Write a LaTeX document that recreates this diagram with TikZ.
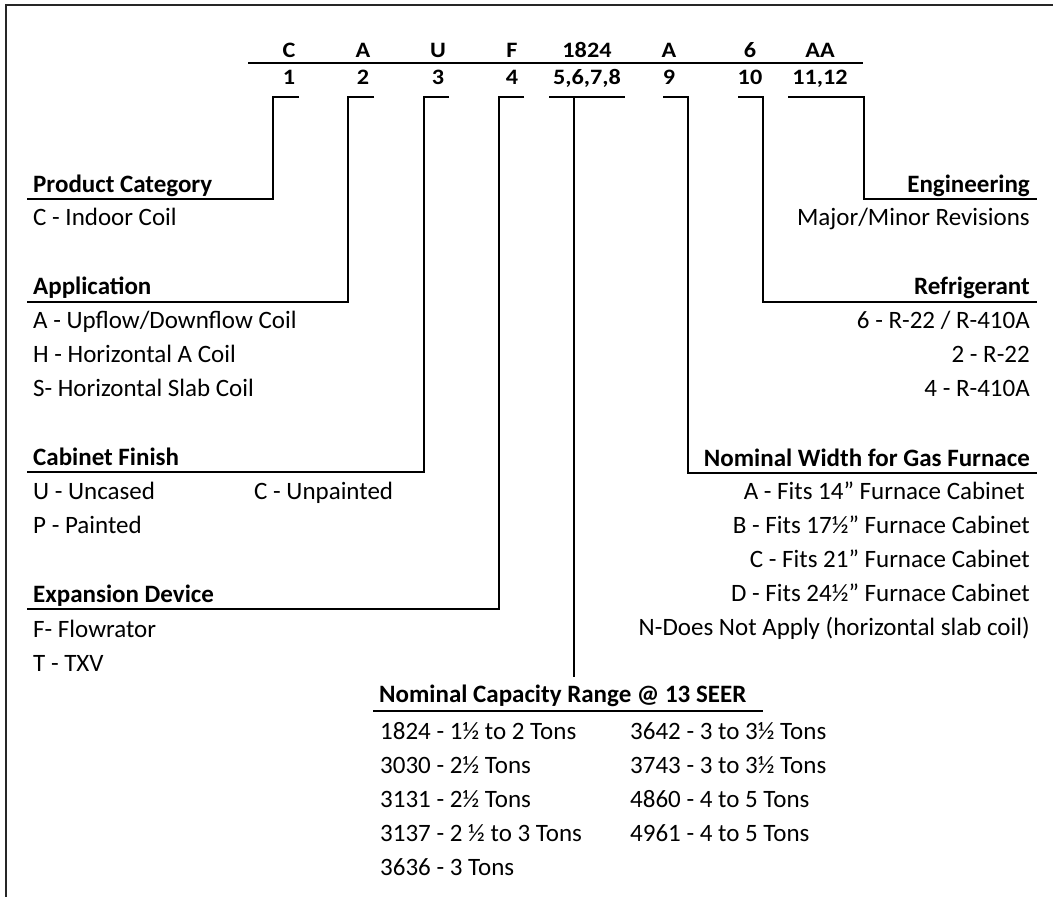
\documentclass[tikz,border=0pt]{standalone}
\usepackage{fontspec}
\setmainfont{Carlito}
\newfontfamily\codefont{Carlito}[FakeStretch=1.1]
\usetikzlibrary{positioning}

\tikzset{
  rule/.style={line width=2.8pt},
  code/.style={font=\codefont\bfseries\fontsize{22}{26}\selectfont, inner sep=0pt, anchor=base},
  head/.style={font=\bfseries\fontsize{25}{30}\selectfont, inner sep=0pt},
  item/.style={font=\fontsize{25}{30}\selectfont, inner sep=0pt},
}

\begin{document}
\begin{tikzpicture}[x=1pt,y=-1pt]
\useasboundingbox (0,0) rectangle (1053,897);
% frame
\draw[line width=2pt, black!85] (6,897) -- (6,5) -- (1053,5);

% model number and digit positions
\foreach \x/\c/\d [count=\i] in {289/C/1, 363/A/2, 438/U/3, 512/F/4,
    587/1824/{5,6,7,8}, 669/A/9, 750/6/10, 820/AA/{11,12}} {
  \node[code] (c\i) at (\x,57) {\c};
  \node[code] (d\i) at (\x,84) {\d};
}
\draw[rule] (248,63) -- (863,63);

% bracket tops
\foreach \n/\a/\b in {1/299/273, 2/374/348, 3/449/424, 4/524/499,
    6/663/688, 7/738/763, 8/788/864} {
  \coordinate (k\n) at (\a,97);
  \coordinate (v\n) at (\b,97);
}
\coordinate (k5) at (549,97);
\coordinate (v5) at (625,97);
\coordinate (m5) at (574,97);
\coordinate (e5) at (574,677);

% ends of the underlines
\coordinate (u1) at (27,199);
\coordinate (u2) at (27,302);
\coordinate (u3) at (27,472);
\coordinate (u4) at (27,609);
\coordinate (u6) at (1037,473);
\coordinate (u7) at (1037,302);
\coordinate (u8) at (1037,199);

% left side
\node[head, anchor=base west] (prod) at (33,192) {Product Category};
\node[item, anchor=base west] (prodC) at (33,225) {C - Indoor Coil};

\node[head, anchor=base west] (appl) at (33,294) {Application};
\foreach \t [count=\i] in {A - Upflow/Downflow Coil, H - Horizontal A Coil,
    S- Horizontal Slab Coil}
  \node[item, anchor=base west] (appl\i) at (33,294+34*\i) {\t};

\node[head, anchor=base west] (cab) at (33,465) {Cabinet Finish};
\node[item, anchor=base west] (cab1) at (33,499) {U - Uncased};
\node[item, anchor=base west] (cab2) at (33,533) {P - Painted};
\node[item, anchor=base west] (cab3) at (254,499) {C - Unpainted};

\node[head, anchor=base west] (exp) at (33,602) {Expansion Device};
\node[item, anchor=base west] (exp1) at (33,637) {F- Flowrator};
\node[item, anchor=base west] (exp2) at (33,671) {T - TXV};

% right side
\node[head, anchor=base east] (eng) at (1030,192) {Engineering};
\node[item, anchor=base east] (eng1) at (1030,225) {Major/Minor Revisions};

\node[head, anchor=base east] (refr) at (1030,294) {Refrigerant};
\foreach \t [count=\i] in {6 - R-22 / R-410A, 2 - R-22, 4 - R-410A}
  \node[item, anchor=base east] (refr\i) at (1030,294+34*\i) {\t};

\node[head, anchor=base east] (wid) at (1030,466) {Nominal Width for Gas Furnace};
\node[item, anchor=base east] (wid1) at (1025,499) {A - Fits 14” Furnace Cabinet};
\foreach \t [count=\i from 2] in {B - Fits 17½” Furnace Cabinet,
    C - Fits 21” Furnace Cabinet, D - Fits 24½” Furnace Cabinet,
    N-Does Not Apply (horizontal slab coil)}
  \node[item, anchor=base east] (wid\i) at (1030,465+34*\i) {\t};

% bottom
\node[head, anchor=base west] (cap) at (379,702) {Nominal Capacity Range @ 13 SEER};
\foreach \t [count=\i] in {1824 - 1½ to 2 Tons, 3030 - 2½ Tons, 3131 - 2½ Tons,
    3137 - 2 ½ to 3 Tons, 3636 - 3 Tons}
  \node[item, anchor=base west] (capL\i) at (380,705+34*\i) {\t};
\foreach \t [count=\i] in {3642 - 3 to 3½ Tons, 3743 - 3 to 3½ Tons,
    4860 - 4 to 5 Tons, 4961 - 4 to 5 Tons}
  \node[item, anchor=base west] (capR\i) at (630,705+34*\i) {\t};
\draw[rule] (373,711) -- (763,711);

% brackets
\foreach \n in {1,2,3,4,6,7,8}
  \draw[rule] (k\n) -- (v\n) |- (u\n);
\draw[rule] (k5) -- (v5);
\draw[rule] (m5) -- (e5);
\end{tikzpicture}
\end{document}
